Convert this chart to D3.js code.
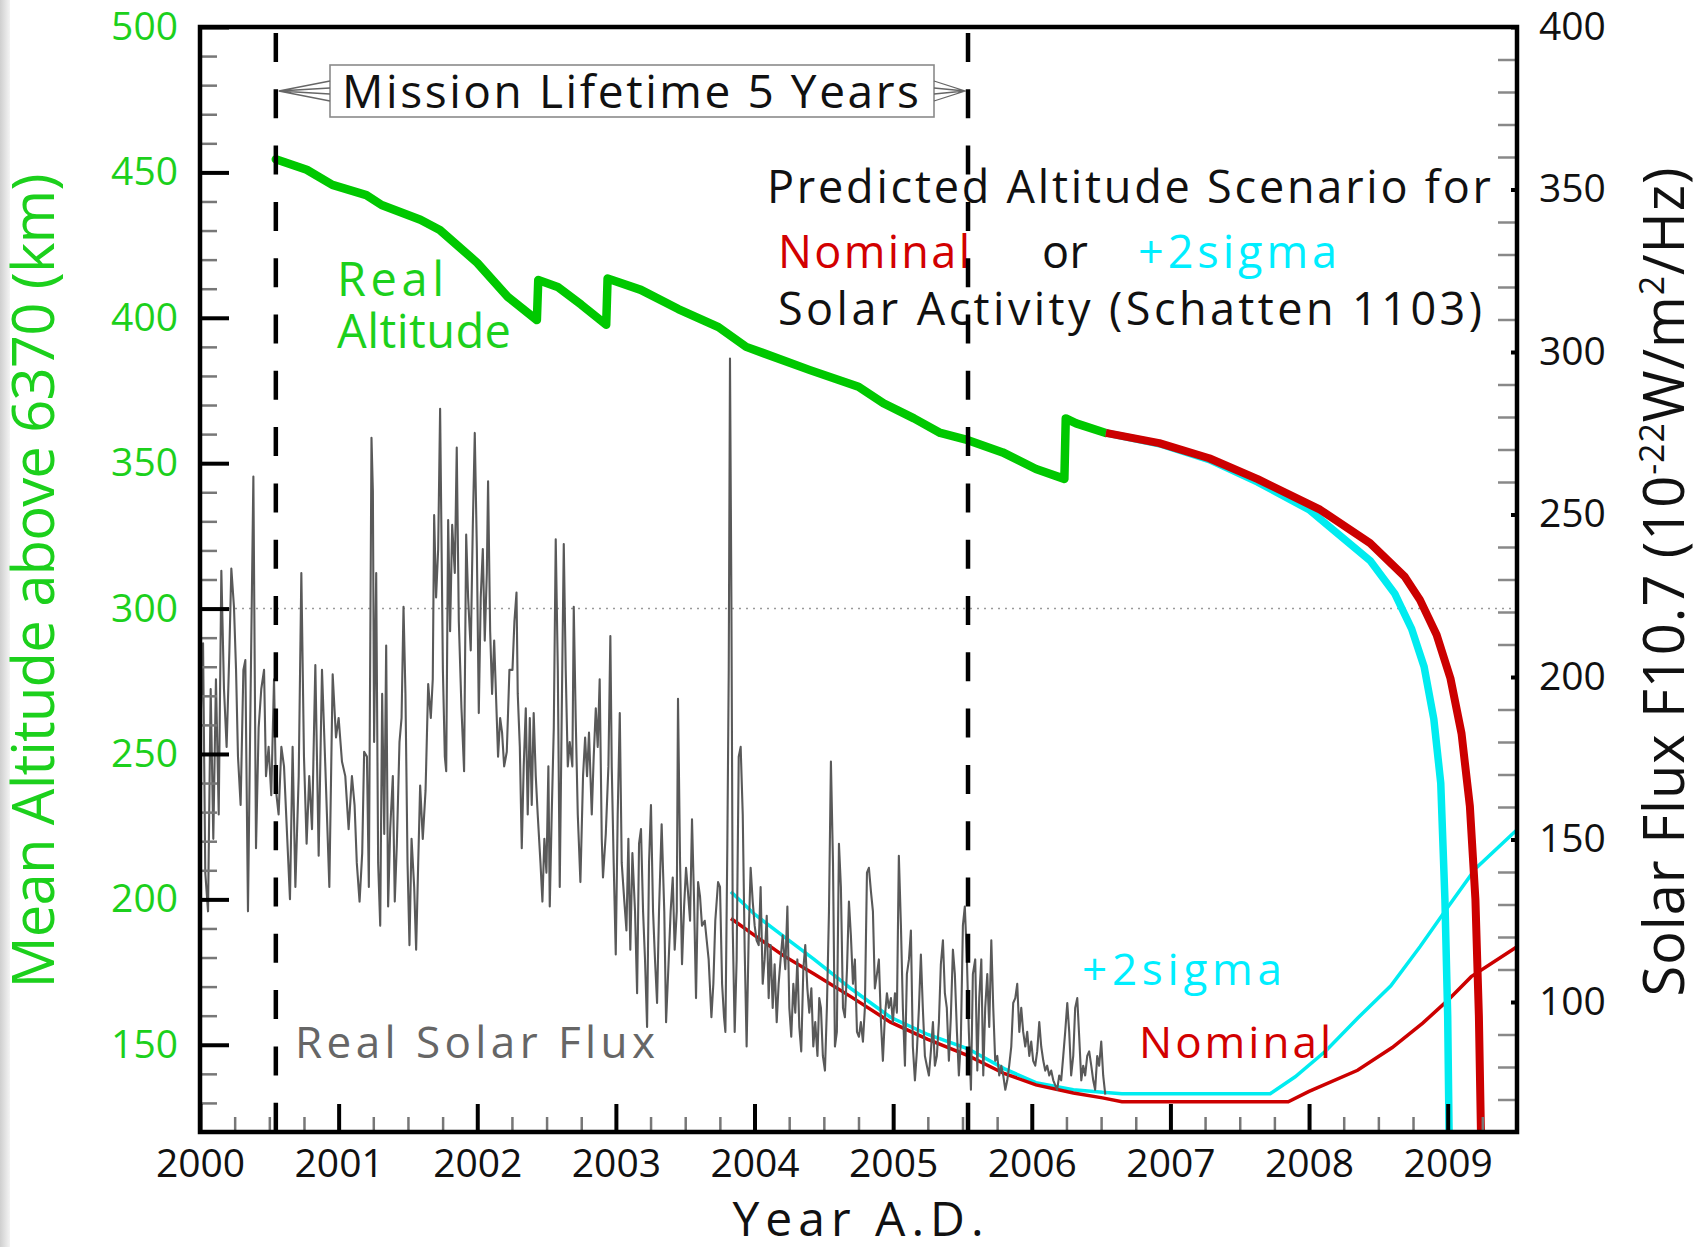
<!DOCTYPE html>
<html>
<head>
<meta charset="utf-8">
<script src="https://cdn.jsdelivr.net/npm/d3@7"></script>
<style>
  body { margin: 0; background: #fff; }
  svg text { font-family: "Open Sans", "Noto Sans", sans-serif; }
</style>
</head>
<body>
<svg id="chart" width="1699" height="1247"></svg>
<script>
// tick labels
const yearTicks = [2000, 2001, 2002, 2003, 2004, 2005, 2006, 2007, 2008, 2009];
const altTicks = [150, 200, 250, 300, 350, 400, 450, 500];
const fluxTicks = [100, 150, 200, 250, 300, 350, 400];

// mission lifetime markers (year)
const missionStart = 2000.547;
const missionEnd = 2005.54;

// measured mean altitude (km) [year, km]
const realAltitude = [[2000.547,454.5],[2000.77,450.9],[2000.955,445.7],[2001.2,442.2],[2001.31,438.8],[2001.59,433.7],
  [2001.73,430.2],[2002.0,418.9],[2002.22,407.2],[2002.43,399.2],[2002.44,413],[2002.58,410.6],[2002.75,404.5],
  [2002.93,397.6],[2002.94,413.5],[2003.18,409.6],[2003.45,403],[2003.74,396.8],[2003.94,390],[2004.4,382],
  [2004.75,376.3],[2004.93,370.6],[2005.15,365.4],[2005.34,360.4],[2005.54,357.9],[2005.79,353.7],[2006.03,348.0],
  [2006.235,344.6],[2006.245,365.4],[2006.32,363.7],[2006.534,360.4]];

// predicted altitude, nominal solar activity
const nominalAltitude = [[2006.534,360.4],[2006.92,356.9],[2007.28,351.7],[2007.63,344.5],[2008.08,334],[2008.44,322.5],
  [2008.69,311],[2008.8,303],[2008.92,291],[2009.02,276],[2009.1,257],[2009.16,232],[2009.2,200],[2009.225,160],[2009.24,120]];

// predicted altitude, +2 sigma solar activity
const sigmaAltitude = [[2006.534,360.4],[2006.92,356.7],[2007.28,351.2],[2007.63,343.5],[2008.0,334],[2008.2,326],
  [2008.44,316.5],[2008.62,305],[2008.74,293],[2008.83,280],[2008.9,262],[2008.95,240],[2008.98,200],[2009.0,160],[2009.01,120]];

// predicted solar flux F10.7
const nominalFlux = [[2003.83,125.7],[2004.0,120.5],[2004.2,114.5],[2004.43,108.6],[2004.7,101.5],[2004.98,93.8],
  [2005.25,88.5],[2005.54,83.5],[2005.8,78],[2006.03,74.5],[2006.3,72],[2006.51,70.5],[2006.65,69.3],[2007.85,69.3],
  [2008.0,72.5],[2008.35,79],[2008.6,86],[2008.82,93.5],[2009.0,100.5],[2009.17,107.8],[2009.5,117]];

const sigmaFlux = [[2003.83,133.9],[2004.0,127],[2004.2,120.5],[2004.43,113.1],[2004.7,104],[2004.98,95.3],
  [2005.25,90],[2005.54,85.6],[2005.8,79.5],[2006.03,75.2],[2006.3,73],[2006.51,72.2],[2006.65,71.8],[2007.72,71.8],
  [2007.9,77],[2008.12,84.9],[2008.35,95],[2008.59,105],[2008.8,117],[2008.98,127.9],[2009.2,141],[2009.5,153]];

const realFlux = [[2000.005,187.4],[2000.022,210.4],[2000.038,139.8],[2000.058,127.9],[2000.077,196.3],[2000.096,150.2],
  [2000.115,199.3],[2000.135,157.7],[2000.154,232.7],[2000.173,196.3],[2000.192,178.5],[2000.212,208.2],[2000.226,233.4],
  [2000.245,221.6],[2000.26,202.2],[2000.274,175.5],[2000.293,160.6],[2000.313,202.2],[2000.327,205.2],[2000.346,127.9],
  [2000.365,194.8],[2000.385,261.7],[2000.404,147.3],[2000.423,184.4],[2000.442,196.3],[2000.462,202.2],[2000.476,169.5],
  [2000.495,178.5],[2000.514,163.6],[2000.534,199.3],[2000.548,165.1],[2000.567,157.7],[2000.587,178.5],[2000.606,172.5],
  [2000.649,131.6],[2000.668,178.5],[2000.688,135.4],[2000.712,169.5],[2000.731,232.0],[2000.75,175.5],[2000.769,148.7],
  [2000.788,169.5],[2000.808,153.2],[2000.832,203.7],[2000.856,145.0],[2000.88,202.2],[2000.904,172.5],[2000.933,135.4],
  [2000.957,200.8],[2000.981,181.4],[2001.0,187.4],[2001.024,174.0],[2001.048,169.5],[2001.072,153.2],[2001.096,169.5],
  [2001.115,160.6],[2001.131,142.8],[2001.151,130.9],[2001.17,145.8],[2001.184,177.0],[2001.204,175.5],[2001.218,135.4],
  [2001.237,273.6],[2001.247,257.2],[2001.256,180.0],[2001.271,232.0],[2001.285,142.8],[2001.3,123.5],[2001.314,194.8],
  [2001.329,151.7],[2001.343,209.7],[2001.357,129.4],[2001.372,153.2],[2001.391,169.5],[2001.405,130.9],[2001.42,148.7],
  [2001.439,180.0],[2001.454,187.4],[2001.468,221.6],[2001.482,194.8],[2001.497,142.8],[2001.511,117.5],[2001.526,150.2],
  [2001.545,135.4],[2001.559,116.1],[2001.574,142.8],[2001.588,166.6],[2001.607,150.2],[2001.627,165.1],[2001.646,197.8],
  [2001.665,187.4],[2001.679,199.3],[2001.689,249.8],[2001.703,224.5],[2001.718,239.4],[2001.732,282.5],[2001.752,202.2],
  [2001.766,175.5],[2001.776,171.0],[2001.79,248.3],[2001.804,214.1],[2001.819,246.8],[2001.838,232.0],[2001.852,270.6],
  [2001.867,217.1],[2001.886,190.4],[2001.905,171.0],[2001.92,243.8],[2001.934,224.5],[2001.953,208.2],[2001.968,246.8],
  [2001.982,275.1],[2001.997,239.4],[2002.011,188.9],[2002.025,224.5],[2002.04,239.4],[2002.054,211.2],[2002.069,232.0],
  [2002.078,260.2],[2002.093,214.1],[2002.107,194.8],[2002.122,211.2],[2002.136,193.3],[2002.15,175.5],[2002.165,187.4],
  [2002.179,182.9],[2002.194,172.5],[2002.213,177.0],[2002.232,202.2],[2002.254,202.2],[2002.268,217.1],[2002.283,226.0],
  [2002.292,194.8],[2002.307,178.5],[2002.321,147.3],[2002.335,172.5],[2002.35,190.4],[2002.364,157.7],[2002.379,187.4],
  [2002.393,160.6],[2002.407,188.9],[2002.422,169.5],[2002.436,157.7],[2002.456,142.8],[2002.47,130.9],[2002.484,150.2],
  [2002.499,139.8],[2002.513,172.5],[2002.523,129.4],[2002.537,157.7],[2002.552,184.4],[2002.566,242.4],[2002.581,202.2],
  [2002.595,135.4],[2002.609,187.4],[2002.624,240.9],[2002.638,202.2],[2002.653,172.5],[2002.667,180.0],[2002.686,172.5],
  [2002.696,221.6],[2002.71,187.4],[2002.725,157.7],[2002.744,136.9],[2002.763,169.5],[2002.778,181.4],[2002.792,169.5],
  [2002.806,182.9],[2002.826,157.7],[2002.84,175.5],[2002.855,190.4],[2002.869,178.5],[2002.883,199.3],[2002.898,150.2],
  [2002.907,138.3],[2002.927,151.7],[2002.946,172.5],[2002.96,212.6],[2002.97,172.5],[2002.984,142.8],[2002.999,114.6],
  [2003.013,157.7],[2003.028,188.9],[2003.042,142.8],[2003.061,130.9],[2003.076,122.0],[2003.09,150.2],[2003.104,116.1],
  [2003.119,145.8],[2003.138,127.9],[2003.153,102.7],[2003.167,148.7],[2003.181,153.2],[2003.196,127.9],[2003.21,113.1],
  [2003.225,92.3],[2003.239,142.8],[2003.253,160.6],[2003.268,127.9],[2003.282,113.1],[2003.297,99.7],[2003.311,127.9],
  [2003.33,154.7],[2003.349,127.9],[2003.362,93.8],[2003.381,113.1],[2003.395,127.9],[2003.41,138.3],[2003.424,116.1],
  [2003.439,127.9],[2003.448,193.3],[2003.463,142.8],[2003.477,111.6],[2003.492,129.4],[2003.506,141.3],[2003.52,133.9],
  [2003.535,125.0],[2003.549,156.2],[2003.564,130.9],[2003.578,101.2],[2003.593,136.9],[2003.607,132.4],[2003.621,123.5],
  [2003.641,125.0],[2003.655,119.0],[2003.669,113.1],[2003.689,95.3],[2003.703,105.6],[2003.717,125.0],[2003.737,136.9],
  [2003.751,135.4],[2003.766,105.6],[2003.78,95.3],[2003.79,90.8],[2003.804,148.7],[2003.814,202.2],[2003.823,298.0],
  [2003.833,224.5],[2003.843,122.0],[2003.857,90.8],[2003.871,113.1],[2003.886,175.5],[2003.9,178.5],[2003.915,157.7],
  [2003.929,116.1],[2003.943,86.3],[2003.958,120.5],[2003.972,141.3],[2003.987,130.9],[2004.001,123.5],[2004.015,119.0],
  [2004.03,117.5],[2004.044,135.4],[2004.059,105.6],[2004.073,113.1],[2004.088,126.5],[2004.102,101.2],[2004.116,117.5],
  [2004.131,98.2],[2004.145,111.6],[2004.16,93.8],[2004.174,105.6],[2004.188,113.1],[2004.203,120.5],[2004.222,110.1],
  [2004.237,129.4],[2004.251,98.2],[2004.265,89.3],[2004.28,105.6],[2004.294,96.7],[2004.309,113.1],[2004.323,92.3],
  [2004.337,84.8],[2004.352,110.1],[2004.366,117.5],[2004.381,104.2],[2004.395,96.7],[2004.41,104.2],[2004.424,86.3],
  [2004.438,93.8],[2004.454,83.4],[2004.467,101.2],[2004.479,98.2],[2004.493,83.4],[2004.508,78.9],[2004.522,98.2],
  [2004.537,127.9],[2004.551,174.0],[2004.566,142.8],[2004.58,86.3],[2004.594,90.8],[2004.609,148.7],[2004.623,135.4],
  [2004.638,98.2],[2004.652,95.3],[2004.667,110.1],[2004.681,130.9],[2004.695,120.5],[2004.71,105.6],[2004.724,113.1],
  [2004.739,90.8],[2004.753,89.3],[2004.767,93.8],[2004.782,87.8],[2004.796,98.2],[2004.811,139.8],[2004.825,141.3],
  [2004.84,133.9],[2004.854,127.9],[2004.868,104.2],[2004.883,108.6],[2004.897,113.1],[2004.912,93.8],[2004.926,81.9],
  [2004.94,95.3],[2004.955,102.7],[2004.969,98.2],[2004.984,101.2],[2004.998,93.8],[2005.013,102.7],[2005.027,96.7],
  [2005.041,145.0],[2005.056,123.5],[2005.07,98.2],[2005.085,80.4],[2005.099,108.6],[2005.114,113.1],[2005.128,122.0],
  [2005.142,86.3],[2005.157,75.9],[2005.171,84.8],[2005.186,98.2],[2005.2,114.6],[2005.214,98.2],[2005.229,83.4],
  [2005.243,80.4],[2005.258,77.4],[2005.272,84.8],[2005.287,93.8],[2005.301,80.4],[2005.315,83.4],[2005.33,93.8],
  [2005.344,111.6],[2005.359,119.0],[2005.373,102.7],[2005.387,98.2],[2005.402,81.9],[2005.416,95.3],[2005.431,116.1],
  [2005.445,108.6],[2005.46,90.8],[2005.474,77.4],[2005.488,87.8],[2005.503,123.5],[2005.517,129.4],[2005.532,113.1],
  [2005.546,90.8],[2005.561,73.0],[2005.575,108.6],[2005.592,113.1],[2005.607,78.9],[2005.621,101.2],[2005.636,113.1],
  [2005.65,77.4],[2005.664,98.2],[2005.679,108.6],[2005.693,92.3],[2005.708,119.0],[2005.722,98.2],[2005.736,81.9],
  [2005.751,83.4],[2005.765,77.4],[2005.78,80.4],[2005.794,77.4],[2005.809,73.0],[2005.823,75.9],[2005.837,80.4],
  [2005.852,86.3],[2005.866,99.7],[2005.881,101.2],[2005.895,105.6],[2005.91,90.8],[2005.924,98.2],[2005.938,90.8],
  [2005.953,86.3],[2005.967,90.8],[2005.982,83.4],[2005.996,87.8],[2006.01,81.9],[2006.025,80.4],[2006.039,84.8],
  [2006.054,93.8],[2006.068,86.3],[2006.083,81.9],[2006.097,78.9],[2006.111,80.4],[2006.126,77.4],[2006.14,78.9],
  [2006.155,75.9],[2006.169,74.4],[2006.183,73.0],[2006.198,77.4],[2006.212,75.9],[2006.227,83.4],[2006.241,90.8],
  [2006.256,99.7],[2006.27,90.8],[2006.284,77.4],[2006.299,83.4],[2006.313,98.2],[2006.328,101.2],[2006.342,89.3],
  [2006.357,75.9],[2006.371,80.4],[2006.385,77.4],[2006.4,83.4],[2006.414,84.8],[2006.429,80.4],[2006.443,75.9],
  [2006.457,73.0],[2006.472,83.4],[2006.486,80.4],[2006.501,87.8],[2006.515,77.4],[2006.53,71.5]];

const green = '#00c800', greenText = '#1cd01c', red = '#cc0000', cyan = '#00ecf0';

const svg = d3.select('#chart');
const plotL = 200, plotR = 1517, plotT = 27, plotB = 1132;

const x = d3.scaleLinear().domain([2000, 2009.5]).range([plotL, plotR]);
const yAlt = d3.scaleLinear().domain([120, 500]).range([plotB, plotT]);
const yFlux = d3.scaleLinear().domain([60, 400]).range([plotB, plotT]);

svg.append('rect').attr('width', 1699).attr('height', 1247).attr('fill', '#fff');
// faint strip on the left edge of the scan
const grad = svg.append('defs').append('linearGradient').attr('id', 'edge');
grad.append('stop').attr('offset', 0).attr('stop-color', '#cfcfcf');
grad.append('stop').attr('offset', 1).attr('stop-color', '#f4f4f4');
svg.append('rect').attr('x', 0).attr('width', 10).attr('height', 1247).attr('fill', 'url(#edge)');

const altLine = d3.line().x(d => x(d[0])).y(d => yAlt(d[1]));
const fluxLine = d3.line().x(d => x(d[0])).y(d => yFlux(d[1]));

// 300 km dotted reference
svg.append('line')
  .attr('x1', plotL).attr('x2', plotR)
  .attr('y1', yAlt(300)).attr('y2', yAlt(300))
  .attr('stroke', '#9a9a9a').attr('stroke-width', 1.5).attr('stroke-dasharray', '2,5');

// predicted flux (thin)
svg.append('path').datum(sigmaFlux).attr('d', fluxLine)
  .attr('fill', 'none').attr('stroke', cyan).attr('stroke-width', 3.5);
svg.append('path').datum(nominalFlux).attr('d', fluxLine)
  .attr('fill', 'none').attr('stroke', red).attr('stroke-width', 3.5);

// real solar flux
svg.append('path').datum(realFlux).attr('d', fluxLine)
  .attr('fill', 'none').attr('stroke', '#595959').attr('stroke-width', 2.1)
  .attr('stroke-linejoin', 'round');

// altitude (thick)
svg.append('path').datum(realAltitude).attr('d', altLine)
  .attr('fill', 'none').attr('stroke', green).attr('stroke-width', 8.5)
  .attr('stroke-linejoin', 'round').attr('stroke-linecap', 'round');
svg.append('path').datum(sigmaAltitude).attr('d', altLine)
  .attr('fill', 'none').attr('stroke', cyan).attr('stroke-width', 7.5)
  .attr('stroke-linejoin', 'round');
svg.append('path').datum(nominalAltitude).attr('d', altLine)
  .attr('fill', 'none').attr('stroke', red).attr('stroke-width', 8)
  .attr('stroke-linejoin', 'round');

// text labels inside plot
function label(txt, px, py, size, color, len) {
  const t = svg.append('text').attr('x', px).attr('y', py)
    .attr('font-size', size).attr('fill', color).text(txt);
  if (len) t.attr('textLength', len).attr('lengthAdjust', 'spacing');
  return t;
}
label('Real', 337, 296, 47, greenText, 107);
label('Altitude', 337, 348, 47, greenText, 174);
label('Predicted Altitude Scenario for', 767, 203, 45, '#111', 724);
label('Nominal', 778, 268, 45, '#d20000', 192);
label('or', 1042, 268, 45, '#111', 46);
label('+2sigma', 1138, 268, 45, '#00eeff', 199);
label('Solar Activity (Schatten 1103)', 778, 325, 45, '#111', 704);
label('Real Solar Flux', 295, 1058, 44, '#666', 360);
label('+2sigma', 1082, 985, 44, '#00eeff', 200);
label('Nominal', 1139, 1058, 44, '#d20000', 192);

// mission lifetime box and arrows
svg.append('rect').attr('x', 330).attr('y', 65).attr('width', 604).attr('height', 52)
  .attr('fill', '#fff').attr('stroke', '#8a8a8a').attr('stroke-width', 1.6);
label('Mission Lifetime 5 Years', 342, 108, 46, '#111', 577);
const ay = 91;
[[x(missionStart) + 3, 330], [x(missionEnd) - 3, 934]].forEach(([tip, base]) => {
  const p = d3.path();
  p.moveTo(base, ay - 10); p.lineTo(tip, ay); p.lineTo(base, ay + 10);
  p.moveTo(base, ay - 3); p.lineTo(tip, ay); p.lineTo(base, ay + 3);
  svg.append('path').attr('d', p.toString()).attr('fill', 'none')
    .attr('stroke', '#666').attr('stroke-width', 1.3);
});

// mission dashed verticals
svg.selectAll('.mission').data([missionStart, missionEnd]).join('line')
  .attr('class', 'mission')
  .attr('x1', d => x(d)).attr('x2', d => x(d))
  .attr('y1', 33).attr('y2', plotB)
  .attr('stroke', '#000').attr('stroke-width', 4.5).attr('stroke-dasharray', '29,27.3');

// axes
const minorYears = d3.range(2000.25, 2009.5, 0.25).filter(v => v % 1 !== 0);
const minorAlt = d3.range(130, 500, 10).filter(v => v % 50 !== 0);
const minorFlux = d3.range(70, 400, 10).filter(v => v % 50 !== 0);

function styleTicks(g, color, w) {
  g.select('.domain').remove();
  g.selectAll('line').attr('stroke', color).attr('stroke-width', w);
}

svg.append('g').attr('transform', `translate(0,${plotB})`)
  .call(d3.axisBottom(x).tickValues(minorYears).tickSize(-15).tickFormat(''))
  .call(g => styleTicks(g, '#777', 2.5));
svg.append('g').attr('transform', `translate(${plotL},0)`)
  .call(d3.axisLeft(yAlt).tickValues(minorAlt).tickSize(-17).tickFormat(''))
  .call(g => styleTicks(g, '#777', 2.5));
svg.append('g').attr('transform', `translate(${plotR},0)`)
  .call(d3.axisRight(yFlux).tickValues(minorFlux).tickSize(-19).tickFormat(''))
  .call(g => styleTicks(g, '#888', 2.5));

svg.append('g').attr('transform', `translate(0,${plotB})`)
  .call(d3.axisBottom(x).tickValues(yearTicks).tickSize(-28).tickPadding(17).tickFormat(d3.format('d')))
  .call(g => styleTicks(g, '#000', 4))
  .call(g => g.attr('font-size', 39).attr('font-family', null))
  .call(g => g.selectAll('text').attr('fill', '#111'));

svg.append('g').attr('transform', `translate(${plotL},0)`)
  .call(d3.axisLeft(yAlt).tickValues(altTicks).tickSize(-29).tickPadding(22))
  .call(g => styleTicks(g, '#000', 4))
  .call(g => g.attr('font-size', 39).attr('font-family', null))
  .call(g => g.selectAll('text').attr('fill', greenText));

svg.append('g').attr('transform', `translate(${plotR},0)`)
  .call(d3.axisRight(yFlux).tickValues(fluxTicks).tickSize(-6).tickPadding(22))
  .call(g => styleTicks(g, '#000', 4))
  .call(g => g.attr('font-size', 39).attr('font-family', null))
  .call(g => g.selectAll('text').attr('fill', '#111'));

// frame
svg.append('rect')
  .attr('x', plotL).attr('y', plotT).attr('width', plotR - plotL).attr('height', plotB - plotT)
  .attr('fill', 'none').attr('stroke', '#000').attr('stroke-width', 4.5);

// axis titles
svg.append('text')
  .attr('transform', 'translate(858,1236)')
  .attr('text-anchor', 'middle').attr('font-size', 48).attr('fill', '#111')
  .attr('textLength', 251).attr('lengthAdjust', 'spacing')
  .text('Year A.D.');

svg.append('text')
  .attr('transform', 'translate(54,581) rotate(-90)')
  .attr('text-anchor', 'middle').attr('font-size', 58).attr('fill', greenText)
  .attr('textLength', 815).attr('lengthAdjust', 'spacing')
  .text('Mean Altitude above 6370 (km)');

const rt = svg.append('text')
  .attr('transform', 'translate(1684,582) rotate(-90)')
  .attr('text-anchor', 'middle').attr('font-size', 56).attr('fill', '#111')
  .attr('textLength', 829).attr('lengthAdjust', 'spacing');
rt.append('tspan').text('Solar Flux F10.7 (10');
rt.append('tspan').attr('font-size', 34).attr('dy', -20).text('-22');
rt.append('tspan').attr('dy', 20).text('W/m');
rt.append('tspan').attr('font-size', 34).attr('dy', -20).text('2');
rt.append('tspan').attr('dy', 20).text('/Hz)');
</script>
</body>
</html>
